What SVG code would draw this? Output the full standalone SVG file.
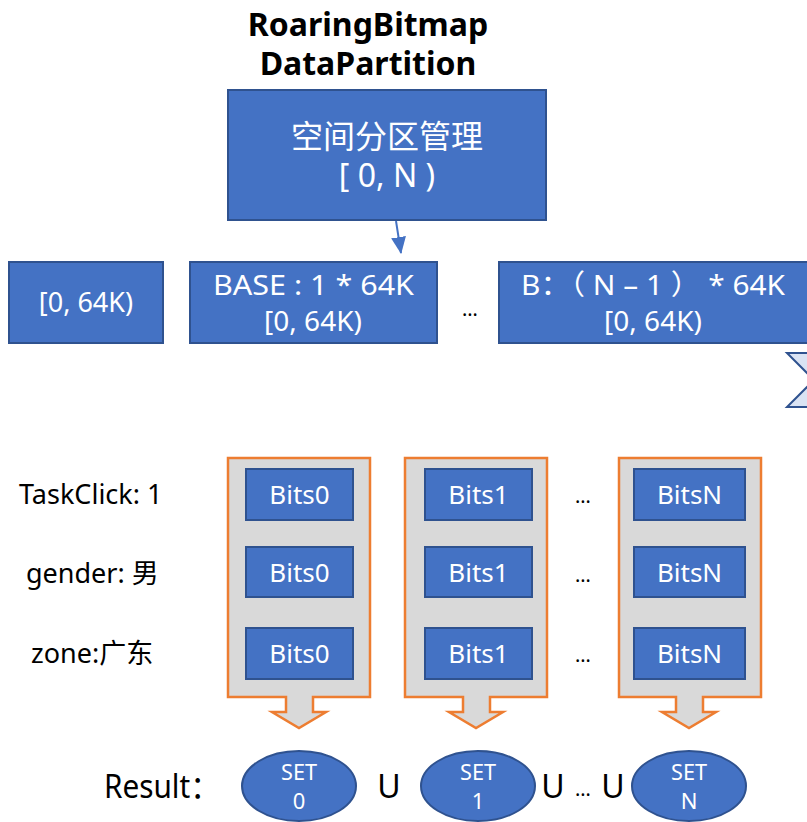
<svg xmlns="http://www.w3.org/2000/svg" width="807" height="822" viewBox="0 0 807 822">
  <defs>
    <style>
      text { font-family: "Noto Sans", "Noto Sans CJK SC", sans-serif; }
      .box { fill: #4472C4; stroke: #2F528F; stroke-width: 2; }
      .wt { fill: #FFFFFF; text-anchor: middle; }
      .bk { fill: #000000; }
      .col { fill: #D9D9D9; stroke: #ED7D31; stroke-width: 2.5; stroke-linejoin: miter; }
      .dots { fill: #000000; font-size: 20px; text-anchor: middle; }
      .lbl { font-size: 27px; fill: #000000; }
      .bits { font-size: 26px; }
      .conn { stroke: #4472C4; stroke-width: 2; fill: none; }
      .u { font-size: 32px; fill: #000000; text-anchor: middle; }
    </style>
    <marker id="arrow" viewBox="0 0 17 15" refX="16" refY="7.5" markerWidth="8.5" markerHeight="7.5" orient="auto" markerUnits="strokeWidth">
      <path d="M0,0 L17,7.5 L0,15 Z" fill="#4472C4"/>
    </marker>
  </defs>

  <rect width="807" height="822" fill="#FFFFFF"/>

  <!-- heading -->
  <g id="title">
    <text x="368" y="36" font-size="32" font-weight="bold" text-anchor="middle" class="bk">RoaringBitmap</text>
    <text x="368" y="75" font-size="32" font-weight="bold" text-anchor="middle" class="bk">DataPartition</text>
  </g>

  <!-- partition manager -->
  <g id="manager">
    <rect class="box" x="228" y="90" width="318" height="130"/>
    <text class="wt" x="387" y="147.5" font-size="32">空间分区管理</text>
    <text class="wt" x="387" y="186.5" font-size="32">[ 0, N )</text>
  </g>

  <!-- container blocks -->
  <g id="block0">
    <rect class="box" x="9" y="262" width="154" height="81"/>
    <text class="wt" x="86" y="312" font-size="27">[0, 64K)</text>
  </g>
  <g id="block1">
    <rect class="box" x="190" y="262" width="247" height="81"/>
    <text class="wt" x="313.5" y="295" font-size="28" textLength="201" lengthAdjust="spacingAndGlyphs">BASE : 1 * 64K</text>
    <text class="wt" x="313" y="331" font-size="28">[0, 64K)</text>
  </g>
  <text class="dots" x="470" y="316">…</text>
  <g id="blockN">
    <rect class="box" x="499" y="262" width="320" height="81"/>
    <text class="wt" x="653" y="295" font-size="28" textLength="264" lengthAdjust="spacingAndGlyphs">B：（ N – 1 ） * 64K</text>
    <text class="wt" x="653" y="331" font-size="28">[0, 64K)</text>
  </g>

  <!-- partly visible collate shape at right edge -->
  <g id="collate">
    <path d="M787,353 L841,353 L787,407 L841,407 Z" fill="#DAE3F3" stroke="#2F528F" stroke-width="2" stroke-linejoin="miter"/>
  </g>

  <!-- connectors -->
  <g id="connectors">
    <line class="conn" x1="396" y1="221" x2="401" y2="253" marker-end="url(#arrow)"/>
  </g>

  <!-- row labels -->
  <g id="labels">
    <text class="lbl" x="19" y="504">TaskClick: 1</text>
    <text class="lbl" x="26" y="583">gender: 男</text>
    <text class="lbl" x="31" y="663">zone:广东</text>
  </g>

  <!-- bitmap columns -->
  <g id="column0">
    <path class="col" d="M228,458 L370,458 L370,697 L313,697 L313,712 L326,712 L299,728 L272,712 L286,712 L286,697 L228,697 Z"/>
    <rect class="box" x="246" y="469" width="107" height="51"/>
    <text class="wt bits" x="299.5" y="504">Bits0</text>
    <rect class="box" x="246" y="547" width="107" height="50"/>
    <text class="wt bits" x="299.5" y="582">Bits0</text>
    <rect class="box" x="246" y="628" width="107" height="51"/>
    <text class="wt bits" x="299.5" y="663">Bits0</text>
  </g>
  <g id="column1">
    <path class="col" d="M405,458 L547,458 L547,697 L490,697 L490,712 L503,712 L476,728 L449,712 L463,712 L463,697 L405,697 Z"/>
    <rect class="box" x="425" y="469" width="107" height="51"/>
    <text class="wt bits" x="478.5" y="504">Bits1</text>
    <rect class="box" x="425" y="547" width="107" height="50"/>
    <text class="wt bits" x="478.5" y="582">Bits1</text>
    <rect class="box" x="425" y="628" width="107" height="51"/>
    <text class="wt bits" x="478.5" y="663">Bits1</text>
  </g>
  <g id="columnDots">
    <text class="dots" x="583" y="503">…</text>
    <text class="dots" x="583" y="582">…</text>
    <text class="dots" x="583" y="662">…</text>
  </g>
  <g id="columnN">
    <path class="col" d="M619,458 L761,458 L761,697 L703,697 L703,712 L716,712 L689,728 L662,712 L676,712 L676,697 L619,697 Z"/>
    <rect class="box" x="634" y="469" width="111" height="51"/>
    <text class="wt bits" x="689.5" y="504">BitsN</text>
    <rect class="box" x="634" y="547" width="111" height="50"/>
    <text class="wt bits" x="689.5" y="582">BitsN</text>
    <rect class="box" x="634" y="628" width="111" height="51"/>
    <text class="wt bits" x="689.5" y="663">BitsN</text>
  </g>

  <!-- union of per-column sets -->
  <g id="result">
    <text class="bk" x="104" y="798" font-size="32" textLength="116" lengthAdjust="spacingAndGlyphs">Result：</text>
    <g id="set0">
      <ellipse class="box" cx="299" cy="786" rx="57" ry="35"/>
      <text class="wt" x="299" y="780" font-size="22" textLength="36" lengthAdjust="spacingAndGlyphs">SET</text>
      <text class="wt" x="299" y="809" font-size="22">0</text>
    </g>
    <text class="u" x="389" y="798">U</text>
    <g id="set1">
      <ellipse class="box" cx="478" cy="786" rx="57" ry="35"/>
      <text class="wt" x="478" y="780" font-size="22" textLength="36" lengthAdjust="spacingAndGlyphs">SET</text>
      <text class="wt" x="478" y="809" font-size="22">1</text>
    </g>
    <text class="u" x="553" y="798">U</text>
    <text class="dots" x="583" y="796">…</text>
    <text class="u" x="613" y="798">U</text>
    <g id="setN">
      <ellipse class="box" cx="689" cy="786" rx="57" ry="35"/>
      <text class="wt" x="689" y="780" font-size="22" textLength="36" lengthAdjust="spacingAndGlyphs">SET</text>
      <text class="wt" x="689" y="809" font-size="22">N</text>
    </g>
  </g>
</svg>
